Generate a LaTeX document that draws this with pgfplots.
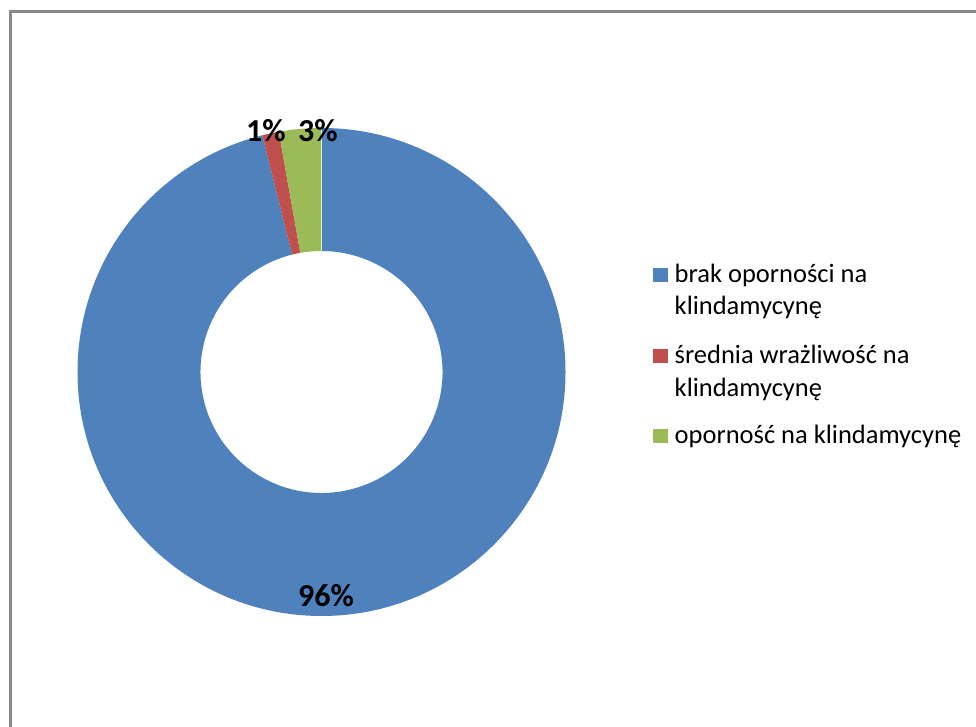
\documentclass[border=0pt]{standalone}
\usepackage{pgfplots}
\pgfplotsset{compat=1.18}
\usepackage{pgfplotstable}
\usepackage{fontspec}
\setmainfont{Carlito}
\definecolor{cblue}{HTML}{4F81BD}
\definecolor{cred}{HTML}{C0504D}
\definecolor{cgreen}{HTML}{9BBB59}
\definecolor{frame}{HTML}{898989}

\pgfplotstableread{
name value
brak 96.1
srednia 1.1
opornosc 2.8
}\datatable

\pgfplotstablegetelem{0}{value}\of\datatable \let\vA\pgfplotsretval
\pgfplotstablegetelem{1}{value}\of\datatable \let\vB\pgfplotsretval
\pgfplotstablegetelem{2}{value}\of\datatable \let\vC\pgfplotsretval
\pgfmathsetmacro\tot{\vA+\vB+\vC}
\pgfmathsetmacro\angA{90}
\pgfmathsetmacro\angB{90-(\vA/\tot)*360}
\pgfmathsetmacro\angC{\angB-(\vB/\tot)*360}
\pgfmathsetmacro\angD{\angC-(\vC/\tot)*360}
\def\cx{321.5}
\def\cy{355}
\def\Ro{244}
\def\Ri{121}

\newcommand\sector[3]{% color, start, end
  \fill[#1] (axis cs:{\cx+\Ro*cos(#2)},{\cy+\Ro*sin(#2)})
     arc[start angle=#2, end angle=#3, radius=\Ro pt]
     -- (axis cs:{\cx+\Ri*cos(#3)},{\cy+\Ri*sin(#3)})
     arc[start angle=#3, end angle=#2, radius=\Ri pt] -- cycle;}

\begin{document}
\begin{tikzpicture}
\begin{axis}[
  width=976pt, height=727pt, scale only axis,
  xmin=0, xmax=976, ymin=0, ymax=727,
  hide axis, clip=false,
]
\coordinate (ll) at (axis cs:0,0);
\coordinate (ur) at (axis cs:976,727);
\draw[frame, line width=2.8pt] (axis cs:10.5,-10) -- (axis cs:10.5,715.8) -- (axis cs:990,715.8);
\sector{cblue}{\angA}{\angB}
\sector{cred}{\angB}{\angC}
\sector{cgreen}{\angC}{\angD}
\draw[white!70!cgreen, line width=0.6pt] (axis cs:\cx,{\cy+\Ri}) -- (axis cs:\cx,{\cy+\Ro});
% data labels
\node[font=\fontsize{32}{38}\selectfont\bfseries, anchor=base, inner sep=0pt] at (axis cs:326,120) {96\%};
\node[font=\fontsize{32}{38}\selectfont\bfseries, anchor=base, inner sep=0pt] at (axis cs:266,585.3) {1\%};
\node[font=\fontsize{32}{38}\selectfont\bfseries, anchor=base, inner sep=0pt] at (axis cs:318,585.3) {3\%};
% legend
\fill[cblue] (axis cs:653.3,444.7) rectangle (axis cs:667.7,459.1);
\fill[cred] (axis cs:653.3,363.7) rectangle (axis cs:667.7,378.1);
\fill[cgreen] (axis cs:653.3,283.7) rectangle (axis cs:667.7,298.1);
\begin{scope}[every node/.style={font=\fontsize{26.5}{33}\selectfont, anchor=base west, inner sep=0pt}]
\node at (axis cs:674.5,444.7) {brak oporności na};
\node at (axis cs:674.5,412) {klindamycynę};
\node at (axis cs:674.5,363.7) {średnia wrażliwość na};
\node at (axis cs:674.5,330.3) {klindamycynę};
\node at (axis cs:674.5,283.7) {oporność na klindamycynę};
\end{scope}
\end{axis}
\pgfresetboundingbox
\useasboundingbox (ll) rectangle (ur);
\end{tikzpicture}
\end{document}
